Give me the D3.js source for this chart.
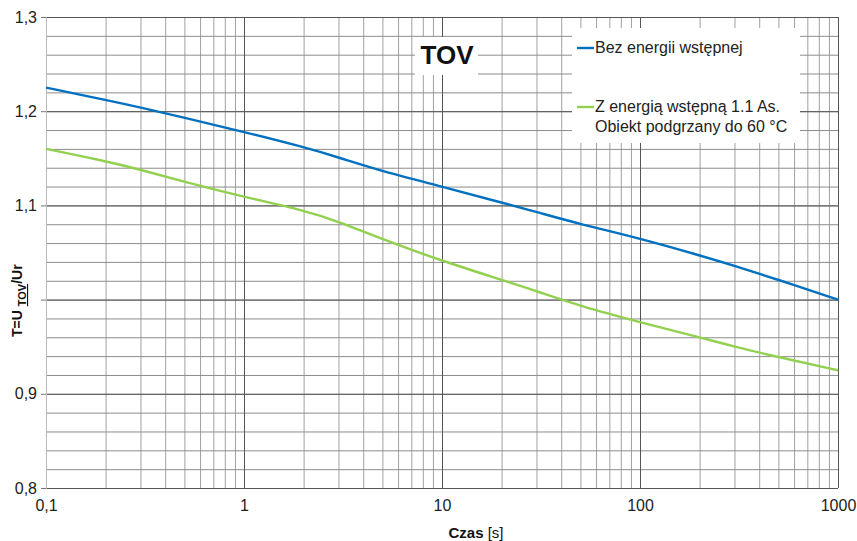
<!DOCTYPE html>
<html>
<head>
<meta charset="utf-8">
<script src="https://cdn.jsdelivr.net/npm/d3@7.9.0/dist/d3.min.js"></script>
<style>
  body { margin: 0; background: #fff; }
  svg { display: block; font-family: "Liberation Sans", Arial, sans-serif; }
</style>
</head>
<body>
<div id="chart"></div>
<script>
// czas [s] and the two curves
const times = [0.1, 0.2, 0.3, 0.5, 1, 2, 3, 5, 10, 20, 30, 50, 100, 200, 300, 500, 1000];
const bezEnergii = [1.225, 1.212, 1.204, 1.193, 1.178, 1.162, 1.151, 1.136, 1.120, 1.103, 1.093, 1.080, 1.065, 1.047, 1.036, 1.021, 1.000];
const zEnergia = [1.160, 1.147, 1.138, 1.125, 1.109, 1.095, 1.083, 1.064, 1.041, 1.021, 1.009, 0.993, 0.976, 0.960, 0.950, 0.939, 0.925];
const xTicks = [0.1, 1, 10, 100, 1000];
const yTicks = [0.8, 0.9, 1.0, 1.1, 1.2, 1.3];
const yLabelled = [0.8, 0.9, 1.1, 1.2, 1.3];
const seriesNames = ['Bez energii wstępnej', ['Z energią wstępną 1.1 As.', 'Obiekt podgrzany do 60 °C']];
const colors = ['#0070c0', '#92d050'];

const width = 857, height = 541;
const margin = { top: 17, right: 19, bottom: 53, left: 46 };
const area = {
  left: margin.left, right: width - margin.right,
  top: margin.top, bottom: height - margin.bottom
};

const svg = d3.select('#chart').append('svg')
  .attr('width', width).attr('height', height);

const x = d3.scaleLog().domain([0.1, 1000]).range([area.left, area.right]);
const y = d3.scaleLinear().domain([0.8, 1.3]).range([area.bottom, area.top]);

const comma = d => String(+d.toFixed(1)).replace('.', ',');

// minor grid
const minorX = [];
for (let dec = 0.1; dec < 1000; dec *= 10) {
  for (let k = 2; k <= 9; k++) minorX.push(+(dec * k).toPrecision(3));
}
const minorY = d3.range(0, 26).map(i => +(0.8 + i * 0.02).toFixed(2));

svg.append('g')
  .attr('transform', `translate(0,${area.bottom})`)
  .call(d3.axisBottom(x).tickValues(minorX).tickFormat('').tickSize(-(area.bottom - area.top)))
  .call(g => g.select('.domain').remove())
  .call(g => g.selectAll('line').attr('stroke', '#a0a0a0'));

svg.append('g')
  .attr('transform', `translate(${area.left},0)`)
  .call(d3.axisLeft(y).tickValues(minorY).tickFormat('').tickSize(-(area.right - area.left)))
  .call(g => g.select('.domain').remove())
  .call(g => g.selectAll('line').attr('stroke', '#8c8c8c'));

// major grid
svg.append('g')
  .attr('transform', `translate(0,${area.bottom})`)
  .call(d3.axisBottom(x).tickValues(xTicks).tickFormat('').tickSize(-(area.bottom - area.top)))
  .call(g => g.select('.domain').remove())
  .call(g => g.selectAll('line').attr('stroke', '#555'));

svg.append('g')
  .attr('transform', `translate(${area.left},0)`)
  .call(d3.axisLeft(y).tickValues(yTicks).tickFormat('').tickSize(-(area.right - area.left)))
  .call(g => g.select('.domain').remove())
  .call(g => g.selectAll('line').attr('stroke', '#555'));

// left ticks + labels (1,0 has no label in the original)
svg.append('g')
  .attr('transform', `translate(${area.left},0)`)
  .call(d3.axisLeft(y).tickValues(yTicks).tickSize(5).tickPadding(4)
    .tickFormat(d => yLabelled.some(v => Math.abs(v - d) < 1e-9) ? comma(d) : ''))
  .call(g => g.select('.domain').attr('stroke', '#bbb'))
  .call(g => g.selectAll('line').attr('stroke', '#777'))
  .call(g => g.selectAll('text').attr('font-size', 16).attr('fill', '#222')
    .attr('font-family', '"Liberation Sans", Arial, sans-serif'));

// bottom labels
svg.append('g')
  .attr('transform', `translate(0,${area.bottom})`)
  .call(d3.axisBottom(x).tickValues(xTicks).tickFormat(comma).tickSize(0).tickPadding(12))
  .call(g => g.select('.domain').remove())
  .call(g => g.selectAll('text').attr('font-size', 16).attr('fill', '#222')
    .attr('font-family', '"Liberation Sans", Arial, sans-serif'));

// curves
const line = d3.line().x(d => x(d[0])).y(d => y(d[1])).curve(d3.curveBasis);
[bezEnergii, zEnergia].forEach((vals, i) => {
  svg.append('path')
    .datum(d3.zip(times, vals))
    .attr('fill', 'none')
    .attr('stroke', colors[i])
    .attr('stroke-width', 2.4)
    .attr('d', line);
});

// TOV label
svg.append('rect').attr('x', 415).attr('y', 37).attr('width', 63).attr('height', 38).attr('fill', '#fff');
svg.append('text').attr('x', 447).attr('y', 64).attr('text-anchor', 'middle')
  .attr('font-size', 26).attr('font-weight', 'bold').attr('fill', '#111').text('TOV');

// legend
const lg = svg.append('g');
lg.append('rect').attr('x', 572).attr('y', 28).attr('width', 228).attr('height', 115).attr('fill', '#fff');
const legendRows = [{ ly: 48, ty: 53 }, { ly: 107, ty: 112 }];
seriesNames.forEach((name, i) => {
  lg.append('line').attr('x1', 577).attr('x2', 594)
    .attr('y1', legendRows[i].ly).attr('y2', legendRows[i].ly)
    .attr('stroke', colors[i]).attr('stroke-width', 2.4);
  const t = lg.append('text').attr('x', 595).attr('y', legendRows[i].ty)
    .attr('font-size', 16).attr('fill', '#222');
  [].concat(name).forEach((s, j) => {
    t.append('tspan').attr('x', 595).attr('dy', j ? 20 : 0).text(s);
  });
});

// axis titles
const xt = svg.append('text').attr('x', 476).attr('y', 538).attr('text-anchor', 'middle')
  .attr('font-size', 15).attr('fill', '#111');
xt.append('tspan').attr('font-weight', 'bold').text('Czas ');
xt.append('tspan').text('[s]');

const yt = svg.append('text')
  .attr('transform', 'translate(22,337) rotate(-90)')
  .attr('font-size', 14).attr('font-weight', 'bold').attr('fill', '#111');
yt.append('tspan').text('T=U ');
yt.append('tspan').attr('font-size', 11).attr('dy', 4).attr('text-decoration', 'underline').text('TOV');
yt.append('tspan').attr('dy', -4).text('/Ur');
</script>
</body>
</html>
